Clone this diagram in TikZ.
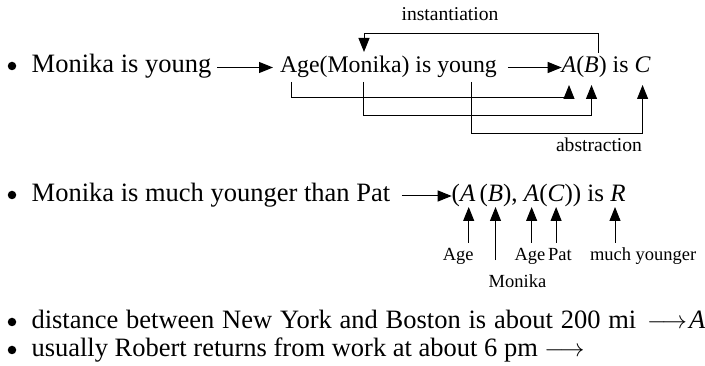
\documentclass[tikz,border=0pt]{standalone}
\usepackage{fontspec}
\setmainfont{Liberation Serif}
\usetikzlibrary{arrows.meta}
\begin{document}
\begin{tikzpicture}[x=1pt,y=-1pt,
  arr/.style={line width=1pt,-{Triangle[length=14pt,width=11pt]}},
  txt/.style={inner sep=0pt,outer sep=0pt,anchor=base west},
  main/.style={txt,font=\fontsize{26.5}{30}\selectfont},
  dia/.style={txt,font=\fontsize{23.8}{28}\selectfont},
  frm/.style={txt,font=\fontsize{25}{30}\selectfont},
  lab/.style={inner sep=0pt,outer sep=0pt,anchor=base,font=\fontsize{19.6}{24}\selectfont},
  slab/.style={inner sep=0pt,outer sep=0pt,anchor=base,font=\fontsize{18.5}{22}\selectfont},
  bul/.style={circle,fill,inner sep=0pt,minimum size=8.5pt}
]
\useasboundingbox (0,0) rectangle (705,366);

% ---- line 1
\node[bul] (b1) at (12,66) {};
\node[main] (t1) at (31.7,73) {Monika is young};
\node[dia] (t2) at (280,73) {Age(Monika) is young};
\node[dia] (nA) at (561.7,73) {\textit{A}};
\node[dia] (nP) at (nA.base east) {(};
\node[dia] (nB) at (nP.base east) {\textit{B}};
\node[dia] (nR) at (nB.base east) {)\ is};
\node[dia,xshift=6pt] (nC) at (nR.base east) {\textit{C}};

\draw[arr] ([xshift=6pt,yshift=5.5pt]t1.base east) -- ([xshift=-7pt,yshift=5.5pt]t2.base west);
\draw[arr] ([xshift=11pt,yshift=5.5pt]t2.base east) -- ([yshift=5.5pt]nA.base west);

\node[lab] (inst) at (450,21) {instantiation};
\coordinate (i1) at (598,53);
\coordinate (i2) at (364,52);
\draw[arr] (i1) -- ++(0,-19.7) -| (i2);

\coordinate (s1) at (291.7,82);
\coordinate (s2) at (363.3,82);
\coordinate (s3) at (471.7,82);
\coordinate (eA) at ([yshift=-12pt]nA.base);
\coordinate (eB) at ([yshift=-12pt]nB.base);
\coordinate (eC) at ([yshift=-12pt]nC.base);
\draw[arr] (s1) -- ++(0,15.7) -| (eA);
\draw[arr] (s2) -- ++(0,33.7) -| (eB);
\draw[arr] (s3) -- ++(0,51.7) -| (eC);
\node[lab] (abs) at (599,152) {abstraction};

% ---- line 2
\node[bul] (b2) at (12,195) {};
\node[main] (t4) at (31.7,202) {Monika is much younger than Pat};
\node[frm] (f1) at (451.7,202) {(};
\node[frm] (fA) at (f1.base east) {\textit{A}};
\node[frm] (f2) at (fA.base east) {\,(};
\node[frm] (fB) at (f2.base east) {\textit{B}};
\node[frm] (f3) at (fB.base east) {),};
\node[frm,xshift=6.25pt] (fA2) at (f3.base east) {\textit{A}};
\node[frm] (f4) at (fA2.base east) {(};
\node[frm] (fC) at (f4.base east) {\textit{C}};
\node[frm] (f5) at (fC.base east) {))\ is};
\node[frm,xshift=6.25pt] (fR) at (f5.base east) {\textit{R}};

\draw[arr] ([xshift=11.7pt,yshift=6pt]t4.base east) -- ([yshift=6pt]f1.base west);

\node[slab] (l1) at (458.3,261) {Age};
\node[slab] (l2) at (530,261) {Age};
\node[slab] (l3) at (560,261) {Pat};
\node[slab,anchor=base west] (l4) at (590,261) {much younger};
\node[slab,anchor=base west] (l5) at (488.7,288) {Monika};

\coordinate (u1) at ([yshift=6pt]l1.north);
\coordinate (u5) at ([yshift=15pt]l5.north);
\coordinate (v1) at ([xshift=1pt,yshift=-5pt]fA.base);
\coordinate (v2) at ([yshift=-5pt]fB.base);
\coordinate (v3) at ([yshift=-5pt]fA2.base);
\coordinate (v4) at ([yshift=-5pt]fC.base);
\coordinate (v5) at ([xshift=-3pt,yshift=-5pt]fR.base);
\draw[arr] (u1 -| v1) -- (v1);
\draw[arr] (u5 -| v2) -- (v2);
\draw[arr] (u1 -| v3) -- (v3);
\draw[arr] (u1 -| v4) -- (v4);
\draw[arr] (u1 -| v5) -- (v5);

% ---- lines 3, 4
\node[bul] (b3) at (12,322) {};
\node[main] (t5) at (31.5,329) {\spaceskip=7.8pt plus 1pt\relax distance between New York and Boston is about 200 mi};
\node[main,font=\fontsize{28}{30}\selectfont] (ar3) at (647,329) {$\longrightarrow$};
\node[main] (t5a) at ([xshift=2pt]ar3.base east) {\textit{A}};
\node[bul] (b4) at (12,350) {};
\node[main] (t6) at (31.5,357) {usually Robert returns from work at about 6 pm $\longrightarrow$};
\end{tikzpicture}
\end{document}
